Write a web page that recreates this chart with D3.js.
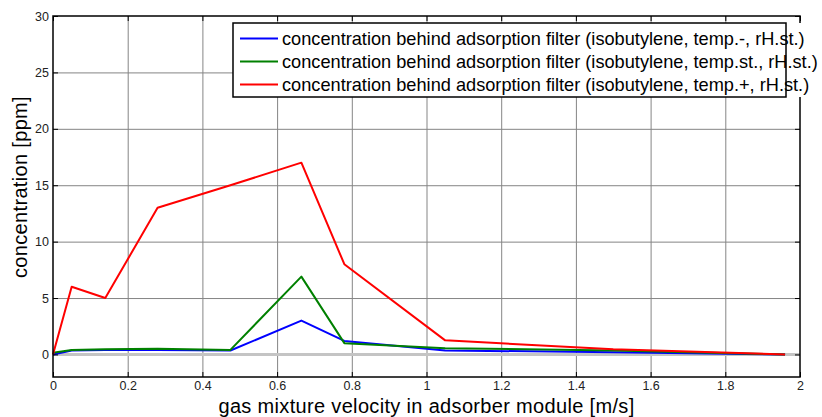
<!DOCTYPE html>
<html lang="en">
<head>
    <meta charset="UTF-8">
    <title>Concentration behind adsorption filter</title>
    <script src="https://d3js.org/d3.v7.min.js"></script>
    <style>
        body { margin: 0; background: #fff; }
        svg { display: block; }
        .tick-label { font-family: "Liberation Sans Narrow", "Arial Narrow", "Liberation Sans", Arial, sans-serif; font-size: 12.5px; fill: #222; }
        .axis-title { font-family: "Liberation Sans", Arial, sans-serif; font-size: 20px; fill: #000; letter-spacing: 0.33px; }
        .legend-text { font-family: "Liberation Sans", Arial, sans-serif; font-size: 18.2px; fill: #000; }
    </style>
</head>
<body>
    <div id="chart"></div>
    <script>
        const width = 822;
        const height = 417;

        // velocity [m/s]
        const velocity = [0, 0.05, 0.14, 0.28, 0.475, 0.665, 0.78, 1.05, 1.5, 1.96];
        const tempMinus = [0, 0.35, 0.4, 0.4, 0.35, 3.0, 1.2, 0.35, 0.2, 0];
        const tempStd   = [0.15, 0.4, 0.45, 0.5, 0.4, 6.9, 1.0, 0.55, 0.35, 0];
        const tempPlus  = [0, 6, 5, 13, 15, 17, 8, 1.25, 0.45, 0];

        const xTicks = [0, 0.2, 0.4, 0.6, 0.8, 1, 1.2, 1.4, 1.6, 1.8, 2];
        const yTicks = [0, 5, 10, 15, 20, 25, 30];

        const seriesNames = [
            'concentration behind adsorption filter (isobutylene, temp.-, rH.st.)',
            'concentration behind adsorption filter (isobutylene, temp.st., rH.st.)',
            'concentration behind adsorption filter (isobutylene, temp.+, rH.st.)'
        ];
        const seriesColors = ['#0000ff', '#008000', '#ff0000'];
        const seriesValues = [tempMinus, tempStd, tempPlus];

        const margin = {left: 53, right: 22, top: 16, bottom: 40};
        const x = d3.scaleLinear().domain([0, 2]).range([margin.left, width - margin.right]);
        const y = d3.scaleLinear().domain([-2, 30]).range([height - margin.bottom, margin.top]);

        const svg = d3.select('#chart').append('svg')
            .attr('width', width)
            .attr('height', height);

        // grid
        svg.append('g')
            .attr('transform', `translate(0,${y(-2)})`)
            .call(d3.axisBottom(x).tickValues(xTicks.slice(1, -1)).tickSize(-(y(-2) - y(30))).tickFormat(''))
            .call(g => g.select('.domain').remove())
            .call(g => g.selectAll('line').attr('stroke', '#858585').attr('stroke-width', 1));
        svg.append('g')
            .attr('transform', `translate(${x(0)},0)`)
            .call(d3.axisLeft(y).tickValues(yTicks.filter(v => v > 0 && v < 30)).tickSize(-(x(2) - x(0))).tickFormat(''))
            .call(g => g.select('.domain').remove())
            .call(g => g.selectAll('line').attr('stroke', '#858585').attr('stroke-width', 1));

        // zero line
        svg.append('line')
            .attr('x1', x(0)).attr('x2', x(2))
            .attr('y1', y(0)).attr('y2', y(0))
            .attr('stroke', '#c4c4c4').attr('stroke-width', 3);

        // series
        const line = d3.line().x(d => x(d[0])).y(d => y(d[1]));
        seriesValues.forEach((vals, i) => {
            svg.append('path')
                .datum(velocity.map((v, j) => [v, vals[j]]))
                .attr('fill', 'none')
                .attr('stroke', seriesColors[i])
                .attr('stroke-width', 2)
                .attr('stroke-linejoin', 'round')
                .attr('d', line);
        });

        // axes with inward ticks
        const xAxis = svg.append('g')
            .attr('transform', `translate(0,${y(-2)})`)
            .call(d3.axisBottom(x).tickValues(xTicks).tickSizeInner(-5).tickSizeOuter(0).tickPadding(4).tickFormat(d3.format('')));
        const yAxis = svg.append('g')
            .attr('transform', `translate(${x(0)},0)`)
            .call(d3.axisLeft(y).tickValues(yTicks).tickSizeInner(-5).tickSizeOuter(0).tickPadding(4));
        [xAxis, yAxis].forEach(g => {
            g.attr('font-size', null).attr('font-family', null);
            g.select('.domain').remove();
            g.selectAll('line').attr('stroke', '#000');
            g.selectAll('text').attr('class', 'tick-label');
        });

        // right and top ticks
        svg.append('g')
            .attr('transform', `translate(${x(2)},0)`)
            .call(d3.axisRight(y).tickValues(yTicks).tickSizeInner(-5).tickSizeOuter(0).tickFormat(''))
            .call(g => g.select('.domain').remove())
            .call(g => g.selectAll('line').attr('stroke', '#000'));
        svg.append('g')
            .attr('transform', `translate(0,${y(30)})`)
            .call(d3.axisTop(x).tickValues(xTicks).tickSizeInner(-5).tickSizeOuter(0).tickFormat(''))
            .call(g => g.select('.domain').remove())
            .call(g => g.selectAll('line').attr('stroke', '#000'));

        // box
        svg.append('rect')
            .attr('x', x(0)).attr('y', y(30))
            .attr('width', x(2) - x(0)).attr('height', y(-2) - y(30))
            .attr('fill', 'none').attr('stroke', '#000').attr('stroke-width', 1.5);

        // axis titles
        svg.append('text')
            .attr('class', 'axis-title')
            .attr('x', (x(0) + x(2)) / 2)
            .attr('y', 413)
            .attr('text-anchor', 'middle')
            .text('gas mixture velocity in adsorber module [m/s]');
        svg.append('text')
            .attr('class', 'axis-title')
            .attr('transform', 'translate(27,187) rotate(-90)')
            .attr('text-anchor', 'middle')
            .text('concentration [ppm]');

        // legend
        const legend = svg.append('g');
        legend.append('rect')
            .attr('x', 233).attr('y', 23)
            .attr('width', width - 233).attr('height', 74)
            .attr('fill', '#fff');
        seriesNames.forEach((name, i) => {
            const cy = 38.5 + i * 23;
            legend.append('line')
                .attr('x1', 240).attr('x2', 278)
                .attr('y1', cy).attr('y2', cy)
                .attr('stroke', seriesColors[i]).attr('stroke-width', 2);
            legend.append('text')
                .attr('class', 'legend-text')
                .attr('x', 282).attr('y', cy)
                .attr('dy', '0.35em')
                .text(name);
        });
        legend.append('rect')
            .attr('x', 233).attr('y', 23)
            .attr('width', 786 - 233).attr('height', 74)
            .attr('fill', 'none').attr('stroke', '#000').attr('stroke-width', 1.5);
    </script>
</body>
</html>
